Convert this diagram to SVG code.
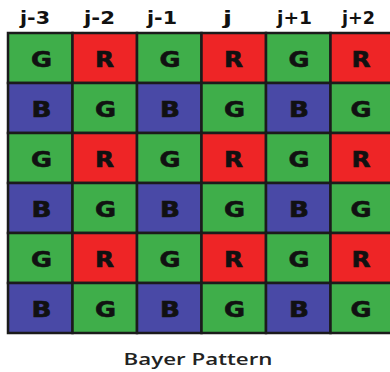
<svg xmlns="http://www.w3.org/2000/svg" width="390" height="372" viewBox="0 0 390 372">
  <style>
    .cell { stroke: #1b1b1b; stroke-width: 2.5; }
    .g { fill: #3fae4a; }
    .r { fill: #ee2526; }
    .b { fill: #4949a6; }
    .lbl { font-family: "DejaVu Sans", "Liberation Sans", sans-serif; font-weight: bold; font-size: 21px; fill: #111; stroke: #111; stroke-width: 0.6; text-anchor: middle; }
    .hdr { font-family: "DejaVu Sans", "Liberation Sans", sans-serif; font-weight: bold; font-size: 17px; fill: #111; text-anchor: middle; }
    .cap { font-family: "Open Sans", "Liberation Sans", sans-serif; font-weight: 600; font-size: 17px; fill: #222; text-anchor: middle; }
  </style>
  <rect width="390" height="372" fill="#ffffff"/>

  <!-- column headers -->
  <g id="headers">
    <text class="hdr" x="35" y="24" textLength="30" lengthAdjust="spacingAndGlyphs">j-3</text>
    <text class="hdr" x="99.5" y="24" textLength="31" lengthAdjust="spacingAndGlyphs">j-2</text>
    <text class="hdr" x="162" y="24" textLength="30" lengthAdjust="spacingAndGlyphs">j-1</text>
    <text class="hdr" x="227.5" y="24" textLength="9" lengthAdjust="spacingAndGlyphs">j</text>
    <text class="hdr" x="294.5" y="24" textLength="35" lengthAdjust="spacingAndGlyphs">j+1</text>
    <text class="hdr" x="358.5" y="24" textLength="33" lengthAdjust="spacingAndGlyphs">j+2</text>
  </g>

  <!-- row 1 -->
  <g id="r1c1"><rect class="cell g" x="8" y="33" width="64.5" height="50"/><text class="lbl" x="41.5" y="67" textLength="21" lengthAdjust="spacingAndGlyphs">G</text></g>
  <g id="r1c2"><rect class="cell r" x="72.5" y="33" width="64.5" height="50"/><text class="lbl" x="104.5" y="67" textLength="19" lengthAdjust="spacingAndGlyphs">R</text></g>
  <g id="r1c3"><rect class="cell g" x="137" y="33" width="64.5" height="50"/><text class="lbl" x="170" y="67" textLength="21" lengthAdjust="spacingAndGlyphs">G</text></g>
  <g id="r1c4"><rect class="cell r" x="201.5" y="33" width="64.5" height="50"/><text class="lbl" x="233.5" y="67" textLength="19" lengthAdjust="spacingAndGlyphs">R</text></g>
  <g id="r1c5"><rect class="cell g" x="266" y="33" width="64.5" height="50"/><text class="lbl" x="299" y="67" textLength="21" lengthAdjust="spacingAndGlyphs">G</text></g>
  <g id="r1c6"><rect class="cell r" x="330.5" y="33" width="64.5" height="50"/><text class="lbl" x="361" y="67" textLength="19" lengthAdjust="spacingAndGlyphs">R</text></g>

  <!-- row 2 -->
  <g id="r2c1"><rect class="cell b" x="8" y="83" width="64.5" height="50"/><text class="lbl" x="41.5" y="117" textLength="20" lengthAdjust="spacingAndGlyphs">B</text></g>
  <g id="r2c2"><rect class="cell g" x="72.5" y="83" width="64.5" height="50"/><text class="lbl" x="105.5" y="117" textLength="21" lengthAdjust="spacingAndGlyphs">G</text></g>
  <g id="r2c3"><rect class="cell b" x="137" y="83" width="64.5" height="50"/><text class="lbl" x="170" y="117" textLength="20" lengthAdjust="spacingAndGlyphs">B</text></g>
  <g id="r2c4"><rect class="cell g" x="201.5" y="83" width="64.5" height="50"/><text class="lbl" x="234.5" y="117" textLength="21" lengthAdjust="spacingAndGlyphs">G</text></g>
  <g id="r2c5"><rect class="cell b" x="266" y="83" width="64.5" height="50"/><text class="lbl" x="299" y="117" textLength="20" lengthAdjust="spacingAndGlyphs">B</text></g>
  <g id="r2c6"><rect class="cell g" x="330.5" y="83" width="64.5" height="50"/><text class="lbl" x="361" y="117" textLength="21" lengthAdjust="spacingAndGlyphs">G</text></g>

  <!-- row 3 -->
  <g id="r3c1"><rect class="cell g" x="8" y="133" width="64.5" height="50"/><text class="lbl" x="41.5" y="167" textLength="21" lengthAdjust="spacingAndGlyphs">G</text></g>
  <g id="r3c2"><rect class="cell r" x="72.5" y="133" width="64.5" height="50"/><text class="lbl" x="104.5" y="167" textLength="19" lengthAdjust="spacingAndGlyphs">R</text></g>
  <g id="r3c3"><rect class="cell g" x="137" y="133" width="64.5" height="50"/><text class="lbl" x="170" y="167" textLength="21" lengthAdjust="spacingAndGlyphs">G</text></g>
  <g id="r3c4"><rect class="cell r" x="201.5" y="133" width="64.5" height="50"/><text class="lbl" x="233.5" y="167" textLength="19" lengthAdjust="spacingAndGlyphs">R</text></g>
  <g id="r3c5"><rect class="cell g" x="266" y="133" width="64.5" height="50"/><text class="lbl" x="299" y="167" textLength="21" lengthAdjust="spacingAndGlyphs">G</text></g>
  <g id="r3c6"><rect class="cell r" x="330.5" y="133" width="64.5" height="50"/><text class="lbl" x="361" y="167" textLength="19" lengthAdjust="spacingAndGlyphs">R</text></g>

  <!-- row 4 -->
  <g id="r4c1"><rect class="cell b" x="8" y="183" width="64.5" height="50"/><text class="lbl" x="41.5" y="217" textLength="20" lengthAdjust="spacingAndGlyphs">B</text></g>
  <g id="r4c2"><rect class="cell g" x="72.5" y="183" width="64.5" height="50"/><text class="lbl" x="105.5" y="217" textLength="21" lengthAdjust="spacingAndGlyphs">G</text></g>
  <g id="r4c3"><rect class="cell b" x="137" y="183" width="64.5" height="50"/><text class="lbl" x="170" y="217" textLength="20" lengthAdjust="spacingAndGlyphs">B</text></g>
  <g id="r4c4"><rect class="cell g" x="201.5" y="183" width="64.5" height="50"/><text class="lbl" x="234.5" y="217" textLength="21" lengthAdjust="spacingAndGlyphs">G</text></g>
  <g id="r4c5"><rect class="cell b" x="266" y="183" width="64.5" height="50"/><text class="lbl" x="299" y="217" textLength="20" lengthAdjust="spacingAndGlyphs">B</text></g>
  <g id="r4c6"><rect class="cell g" x="330.5" y="183" width="64.5" height="50"/><text class="lbl" x="361" y="217" textLength="21" lengthAdjust="spacingAndGlyphs">G</text></g>

  <!-- row 5 -->
  <g id="r5c1"><rect class="cell g" x="8" y="233" width="64.5" height="50"/><text class="lbl" x="41.5" y="267" textLength="21" lengthAdjust="spacingAndGlyphs">G</text></g>
  <g id="r5c2"><rect class="cell r" x="72.5" y="233" width="64.5" height="50"/><text class="lbl" x="104.5" y="267" textLength="19" lengthAdjust="spacingAndGlyphs">R</text></g>
  <g id="r5c3"><rect class="cell g" x="137" y="233" width="64.5" height="50"/><text class="lbl" x="170" y="267" textLength="21" lengthAdjust="spacingAndGlyphs">G</text></g>
  <g id="r5c4"><rect class="cell r" x="201.5" y="233" width="64.5" height="50"/><text class="lbl" x="233.5" y="267" textLength="19" lengthAdjust="spacingAndGlyphs">R</text></g>
  <g id="r5c5"><rect class="cell g" x="266" y="233" width="64.5" height="50"/><text class="lbl" x="299" y="267" textLength="21" lengthAdjust="spacingAndGlyphs">G</text></g>
  <g id="r5c6"><rect class="cell r" x="330.5" y="233" width="64.5" height="50"/><text class="lbl" x="361" y="267" textLength="19" lengthAdjust="spacingAndGlyphs">R</text></g>

  <!-- row 6 -->
  <g id="r6c1"><rect class="cell b" x="8" y="283" width="64.5" height="50"/><text class="lbl" x="41.5" y="317" textLength="20" lengthAdjust="spacingAndGlyphs">B</text></g>
  <g id="r6c2"><rect class="cell g" x="72.5" y="283" width="64.5" height="50"/><text class="lbl" x="105.5" y="317" textLength="21" lengthAdjust="spacingAndGlyphs">G</text></g>
  <g id="r6c3"><rect class="cell b" x="137" y="283" width="64.5" height="50"/><text class="lbl" x="170" y="317" textLength="20" lengthAdjust="spacingAndGlyphs">B</text></g>
  <g id="r6c4"><rect class="cell g" x="201.5" y="283" width="64.5" height="50"/><text class="lbl" x="234.5" y="317" textLength="21" lengthAdjust="spacingAndGlyphs">G</text></g>
  <g id="r6c5"><rect class="cell b" x="266" y="283" width="64.5" height="50"/><text class="lbl" x="299" y="317" textLength="20" lengthAdjust="spacingAndGlyphs">B</text></g>
  <g id="r6c6"><rect class="cell g" x="330.5" y="283" width="64.5" height="50"/><text class="lbl" x="361" y="317" textLength="21" lengthAdjust="spacingAndGlyphs">G</text></g>

  <!-- caption -->
  <g id="caption">
    <text class="cap" x="198" y="365" textLength="149" lengthAdjust="spacingAndGlyphs">Bayer Pattern</text>
  </g>
  <g id="connectors"/>
</svg>
